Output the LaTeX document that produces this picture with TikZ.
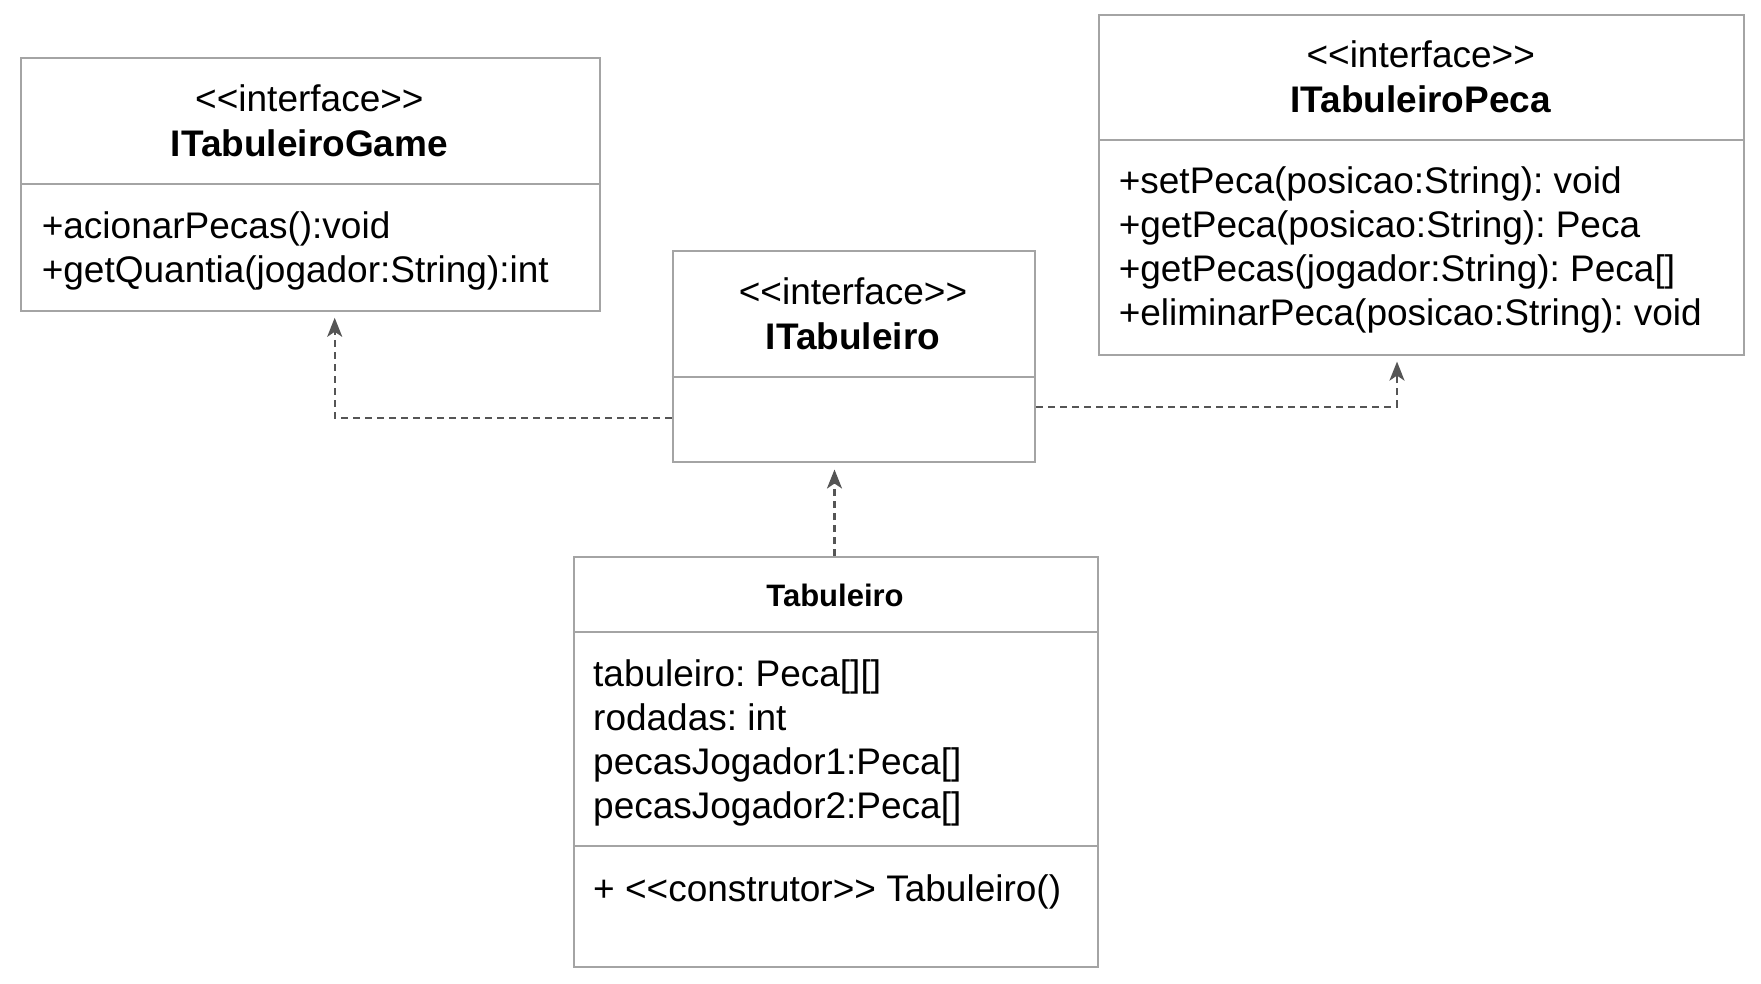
\documentclass[tikz,border=0pt]{standalone}
\usepackage{fontspec}
\setmainfont{Liberation Sans}
\usetikzlibrary{arrows.meta}
\definecolor{boxgray}{HTML}{A4A4A4}
\definecolor{linegray}{HTML}{555555}
\newcommand\llt{<\kern0pt<}
\newcommand\ggt{>\kern0pt>}
\frenchspacing
\tikzset{
  umlbox/.style={draw=boxgray, line width=2pt, fill=white, inner sep=0pt, anchor=north west},
  divider/.style={draw=boxgray, line width=2pt},
  txt/.style={inner sep=0pt, anchor=base west, font=\fontsize{37}{44}\selectfont},
  ctxt/.style={inner sep=0pt, anchor=base, font=\fontsize{37}{44}\selectfont},
  btxt/.style={inner sep=0pt, anchor=base, font=\fontsize{37}{44}\selectfont\bfseries},
  stxt/.style={inner sep=0pt, anchor=base, font=\fontsize{31}{37}\selectfont\bfseries},
  dep/.style={draw=linegray, line width=2.2pt, dash pattern=on 7pt off 5pt,
    -{Stealth[length=19pt,width=15pt,inset=5pt]}}
}
\begin{document}
\begin{tikzpicture}[x=1pt,y=-1pt]
\useasboundingbox (0,0) rectangle (1761,983);

% ITabuleiroGame
\node[umlbox, minimum width=578.4pt, minimum height=252.7pt] (game) at (20.2,57.3) {};
\draw[divider] (20.2,184.2) -- (598.6,184.2);
\node[ctxt] (game-st) at (309.4,111) {\llt interface\ggt};
\node[btxt] (game-nm) at (309.4,156) {ITabuleiroGame};
\node[txt] (game-m1) at (41.6,238) {+acionarPecas():void};
\node[txt] (game-m2) at (41.6,282) {+getQuantia(jogador:String):int};

% ITabuleiro
\node[umlbox, minimum width=362.8pt, minimum height=210.1pt] (it) at (671.6,250.4) {};
\draw[divider] (671.6,377.4) -- (1034.4,377.4);
\node[ctxt] (it-st) at (853,304) {\llt interface\ggt};
\node[btxt] (it-nm) at (853,349) {ITabuleiro};

% ITabuleiroPeca
\node[umlbox, minimum width=644.6pt, minimum height=340.3pt] (peca) at (1098.4,13.5) {};
\draw[divider] (1098.4,140.4) -- (1743,140.4);
\node[ctxt] (peca-st) at (1420.7,67) {\llt interface\ggt};
\node[btxt] (peca-nm) at (1420.7,112) {ITabuleiroPeca};
\node[txt] (peca-m1) at (1118.6,193) {+setPeca(posicao:String): void};
\node[txt] (peca-m2) at (1118.6,237) {+getPeca(posicao:String): Peca};
\node[txt] (peca-m3) at (1118.6,281) {+getPecas(jogador:String): Peca[]};
\node[txt] (peca-m4) at (1118.6,325) {+eliminarPeca(posicao:String): void};

% Tabuleiro
\node[umlbox, minimum width=524.5pt, minimum height=410pt] (tab) at (572.8,556) {};
\draw[divider] (572.8,632.3) -- (1097.3,632.3);
\draw[divider] (572.8,845.7) -- (1097.3,845.7);
\node[stxt] (tab-nm) at (835,606) {Tabuleiro};
\node[txt] (tab-a1) at (593,686) {tabuleiro: Peca[][]};
\node[txt] (tab-a2) at (593,730) {rodadas: int};
\node[txt] (tab-a3) at (593,774) {pecasJogador1:Peca[]};
\node[txt] (tab-a4) at (593,818) {pecasJogador2:Peca[]};
\node[txt] (tab-m1) at (593,901) {+ \llt construtor\ggt{} Tabuleiro()};

% connectors
\coordinate (j1) at (334.7,417.8);
\coordinate (j2) at (334.7,317.8);
\draw[dep] (it.west |- j1) -- (j1) -- (j2);
\coordinate (k1) at (1397,406.6);
\coordinate (k2) at (1397,361.6);
\draw[dep] (it.east |- k1) -- (k1) -- (k2);
\coordinate (m2) at (834.5,469.5);
\draw[dep] (tab.north -| m2) -- (m2);
\end{tikzpicture}
\end{document}
